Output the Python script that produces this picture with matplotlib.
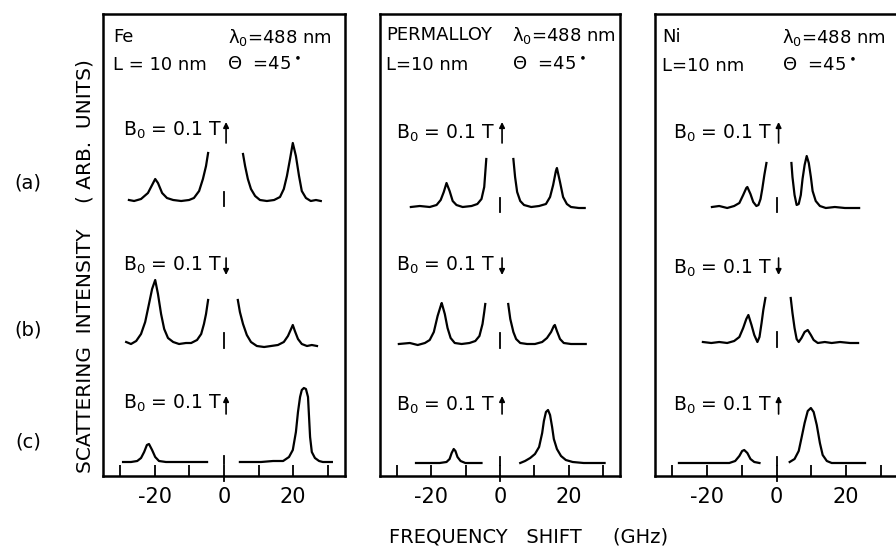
import matplotlib.pyplot as plt

plt.rcParams['font.family'] = ['DejaVu Sans']
plt.rcParams['mathtext.fontset'] = 'dejavusans'

# spectra: (frequency shift in GHz, intensity in arb. units above baseline)
fe_a_left = [(-27.5, 1), (-26.0, 0), (-24.0, 2), (-22.0, 8), (-20.8, 16), (-19.9, 22), (-19.1, 18),
             (-17.9, 8), (-16.5, 3), (-14.7, 1), (-12.4, 0), (-10.1, 1), (-8.7, 3), (-7.2, 10),
             (-6.1, 22), (-5.2, 35), (-4.6, 48)]
fe_a_right = [(5.5, 47), (6.1, 35), (6.9, 22), (7.8, 12), (9.0, 5), (10.4, 1), (12.4, 0), (14.5, 1),
              (16.2, 4), (17.3, 12), (18.2, 25), (19.1, 42), (19.9, 58), (20.8, 45), (21.7, 25),
              (22.5, 10), (23.7, 3), (25.1, 0), (26.6, 1), (28.0, 0)]
fe_b_left = [(-28.3, 2), (-26.9, 0), (-25.4, 3), (-24.0, 10), (-22.8, 22), (-21.7, 40), (-20.8, 55),
             (-19.9, 64), (-19.1, 50), (-18.2, 30), (-17.3, 15), (-16.2, 6), (-14.7, 2), (-13.0, 0),
             (-11.0, 1), (-9.5, 1), (-7.8, 4), (-6.6, 10), (-5.8, 20), (-5.2, 30), (-4.6, 44)]
fe_b_right = [(4.0, 44), (4.6, 32), (5.5, 20), (6.6, 9), (7.8, 2), (9.5, -2), (11.6, -3), (13.6, -2),
              (15.6, -1), (17.3, 2), (18.5, 8), (19.4, 15), (19.9, 19), (20.5, 13), (21.4, 5),
              (22.5, 0), (24.0, -2), (25.4, -1), (26.9, -2)]
fe_c_left = [(-29.2, 0), (-26.9, 0), (-25.1, 1), (-24.0, 4), (-23.1, 10), (-22.3, 17), (-21.7, 18),
             (-20.8, 12), (-19.9, 5), (-18.8, 1), (-16.8, 0), (-4.9, 0)]
fe_c_right = [(4.6, 0), (10.7, 0), (14.2, 1), (17.1, 1), (18.8, 5), (19.9, 12), (20.8, 30), (21.4, 50),
              (22.0, 65), (22.5, 72), (23.1, 74), (23.7, 73), (24.3, 65), (24.6, 45), (24.9, 25),
              (25.4, 10), (26.3, 4), (27.5, 1), (28.6, 0), (31.2, 0)]

py_a_left = [(-26.0, 0), (-23.4, 1), (-20.5, 0), (-18.5, 2), (-17.3, 7), (-16.4, 15), (-15.6, 24),
             (-14.7, 16), (-13.8, 6), (-12.7, 2), (-10.9, 0), (-8.3, 1), (-6.6, 3), (-5.4, 8),
             (-4.6, 20), (-4.0, 48)]
py_a_right = [(3.9, 48), (4.4, 30), (5.0, 15), (5.9, 6), (7.0, 2), (9.1, 0), (11.4, 1), (13.4, 3),
              (14.6, 10), (15.5, 22), (16.3, 36), (16.6, 39), (17.5, 25), (18.4, 10), (19.5, 3),
              (20.7, 0), (23.0, -1), (24.7, -1)]
py_b_left = [(-29.5, 0), (-26.3, 1), (-24.0, -1), (-21.9, 1), (-20.5, 4), (-19.3, 12), (-18.2, 28),
             (-17.3, 38), (-17.0, 41), (-16.1, 30), (-15.3, 16), (-14.4, 6), (-13.2, 1), (-11.2, 0),
             (-8.9, 1), (-7.2, 3), (-6.0, 8), (-5.1, 20), (-4.6, 32), (-4.3, 40)]
py_b_right = [(2.4, 40), (3.0, 25), (3.9, 12), (4.7, 5), (5.9, 1), (7.9, 0), (10.2, 0), (12.3, 2),
              (13.7, 6), (14.9, 12), (15.7, 18), (16.0, 19), (16.6, 13), (17.5, 5), (18.6, 1),
              (20.7, 0), (23.0, 0), (25.0, 0)]
py_c_left = [(-24.5, 0), (-17.6, 0), (-15.6, 1), (-14.7, 4), (-14.1, 10), (-13.5, 14), (-13.0, 12),
             (-12.4, 6), (-11.5, 2), (-10.1, 0), (-5.4, 0)]
py_c_right = [(5.9, 0), (7.3, 2), (8.8, 5), (10.2, 9), (11.4, 16), (12.3, 30), (12.8, 42), (13.4, 51),
              (14.0, 53), (14.6, 48), (15.2, 36), (15.7, 24), (16.6, 14), (17.8, 7), (19.2, 3),
              (21.2, 1), (24.4, 0), (30.5, 0)]

ni_a_left = [(-18.6, 0), (-16.5, 1), (-14.2, -1), (-12.2, 1), (-10.7, 4), (-9.6, 12), (-8.7, 19),
             (-8.4, 20), (-7.5, 13), (-6.7, 5), (-5.8, 1), (-5.2, 2), (-4.6, 8), (-4.1, 18),
             (-3.5, 32), (-2.9, 44)]
ni_a_right = [(4.3, 44), (4.6, 30), (5.2, 12), (5.8, 2), (6.4, 3), (7.0, 12), (7.5, 28), (8.1, 42),
              (8.7, 51), (9.3, 44), (9.9, 30), (10.4, 16), (11.3, 6), (12.5, 1), (14.2, -1),
              (16.8, 0), (19.7, -1), (23.8, -1)]
ni_b_left = [(-21.2, 1), (-18.8, 0), (-16.5, 1), (-14.2, 0), (-12.2, 2), (-10.7, 6), (-9.6, 15),
             (-8.7, 24), (-8.1, 28), (-7.2, 18), (-6.4, 8), (-5.5, 1), (-4.9, 6), (-4.3, 20),
             (-3.8, 33), (-3.2, 45)]
ni_b_right = [(4.1, 45), (4.6, 30), (5.2, 15), (5.8, 4), (6.4, 1), (7.2, 5), (8.1, 11), (9.0, 13),
              (9.9, 8), (10.7, 3), (11.9, 0), (13.9, 1), (15.9, 0), (18.3, 1), (21.2, 0), (23.5, 0)]
ni_c_left = [(-28.1, 0), (-13.6, 0), (-11.9, 2), (-10.7, 7), (-9.9, 12), (-9.3, 13), (-8.4, 10),
             (-7.5, 4), (-6.4, 1), (-4.9, 0)]
ni_c_right = [(3.8, 1), (5.2, 4), (6.4, 12), (7.2, 25), (8.1, 40), (9.0, 52), (9.9, 55), (10.7, 51),
              (11.6, 38), (12.5, 20), (13.3, 8), (14.5, 2), (15.9, 0), (25.5, 0)]

materials = ['Fe', 'PERMALLOY', 'Ni']
rows = ['(a)', '(b)', '(c)']
field_arrows = ['up', 'down', 'up']
xticks = [-30, -20, -10, 0, 10, 20, 30]
xticklabels = ['', '-20', '', '0', '', '20', '']

spectra = {
    'Fe': [(fe_a_left, fe_a_right), (fe_b_left, fe_b_right), (fe_c_left, fe_c_right)],
    'PERMALLOY': [(py_a_left, py_a_right), (py_b_left, py_b_right), (py_c_left, py_c_right)],
    'Ni': [(ni_a_left, ni_a_right), (ni_b_left, ni_b_right), (ni_c_left, ni_c_right)],
}

W, H = 896, 550
fig = plt.figure(figsize=(W / 100, H / 100), dpi=100)

# layout in pixels
panel_x = {'Fe': (103, 345), 'PERMALLOY': (380, 620), 'Ni': (655, 898)}
ax_top, ax_bot = 14, 476
baselines = {'Fe': [201, 344, 462], 'PERMALLOY': [207, 344, 463], 'Ni': [207, 343, 463]}
centre_marks = [(-5, 9), (-4, 11), (-2, 6)]
arrow_px = [(122, 143), (258, 275), (396, 414)]
b_text_y = {'Fe': [130, 265, 403], 'PERMALLOY': [133, 265, 405], 'Ni': [133, 268, 405]}
b_text_x = {'Fe': 123, 'PERMALLOY': 396, 'Ni': 673}

def fx(x):
    return x / W

def fy(y):
    return 1 - y / H

for m in materials:
    x0, x1 = panel_x[m]
    ax = fig.add_axes([fx(x0), fy(ax_bot), (x1 - x0) / W, (ax_bot - ax_top) / H])
    ax.set_xlim(-35, 35)
    ax.set_ylim(0, ax_bot - ax_top)
    for sp in ax.spines.values():
        sp.set_linewidth(1.8)
    ax.set_yticks([])
    ax.set_xticks(xticks)
    ax.set_xticklabels(xticklabels, fontsize=15)
    ax.tick_params(axis='x', direction='in', length=8, width=1.3, pad=8)
    # the zero tick pokes through the axis
    ax.plot([0, 0], [-5, 0], color='k', lw=1.3, clip_on=False)
    for i, (left, right) in enumerate(spectra[m]):
        base = ax_bot - baselines[m][i]
        for seg in (left, right):
            ax.plot([p[0] for p in seg], [base + p[1] for p in seg], color='k', lw=1.6,
                    solid_joinstyle='round')
        lo, hi = centre_marks[i]
        ax.plot([0, 0], [base + lo, base + hi], color='k', lw=1.3)
        ya, yb = arrow_px[i]
        if field_arrows[i] == 'up':
            tip, tail = ax_bot - ya, ax_bot - yb
        else:
            tip, tail = ax_bot - yb, ax_bot - ya
        ax.annotate('', xy=(0.6, tip), xytext=(0.6, tail),
                    arrowprops=dict(arrowstyle='-|>', lw=1.2, color='k', mutation_scale=8,
                                    shrinkA=0, shrinkB=0))
        fig.text(fx(b_text_x[m]), fy(b_text_y[m][i]), r'B$_0$ = 0.1 T', fontsize=13.5,
                 ha='left', va='center')

# panel headers
hdr = 13
fig.text(fx(113), fy(37), 'Fe', fontsize=hdr, va='center')
fig.text(fx(113), fy(65), 'L = 10 nm', fontsize=hdr, va='center')
fig.text(fx(228), fy(37), r'λ$_0$=488 nm', fontsize=hdr, va='center')
fig.text(fx(227), fy(65), r'Θ  =45$^\bullet$', fontsize=hdr, va='center')

fig.text(fx(386), fy(35), 'PERMALLOY', fontsize=hdr, va='center')
fig.text(fx(386), fy(65), 'L=10 nm', fontsize=hdr, va='center')
fig.text(fx(512), fy(35), r'λ$_0$=488 nm', fontsize=hdr, va='center')
fig.text(fx(512), fy(65), r'Θ  =45$^\bullet$', fontsize=hdr, va='center')

fig.text(fx(662), fy(37), 'Ni', fontsize=hdr, va='center')
fig.text(fx(662), fy(66), 'L=10 nm', fontsize=hdr, va='center')
fig.text(fx(782), fy(37), r'λ$_0$=488 nm', fontsize=hdr, va='center')
fig.text(fx(782), fy(66), r'Θ  =45$^\bullet$', fontsize=hdr, va='center')

# row labels and axis titles
for lab, y in zip(rows, [183, 330, 442]):
    fig.text(fx(28), fy(y), lab, fontsize=14, ha='center', va='center')
fig.text(fx(85), fy(266), 'SCATTERING  INTENSITY    ( ARB.  UNITS)', fontsize=14.5,
         rotation=90, ha='center', va='center')
fig.text(fx(529), fy(537), 'FREQUENCY   SHIFT     (GHz)', fontsize=14, ha='center', va='center')

fig.savefig('out.png', dpi=100)
